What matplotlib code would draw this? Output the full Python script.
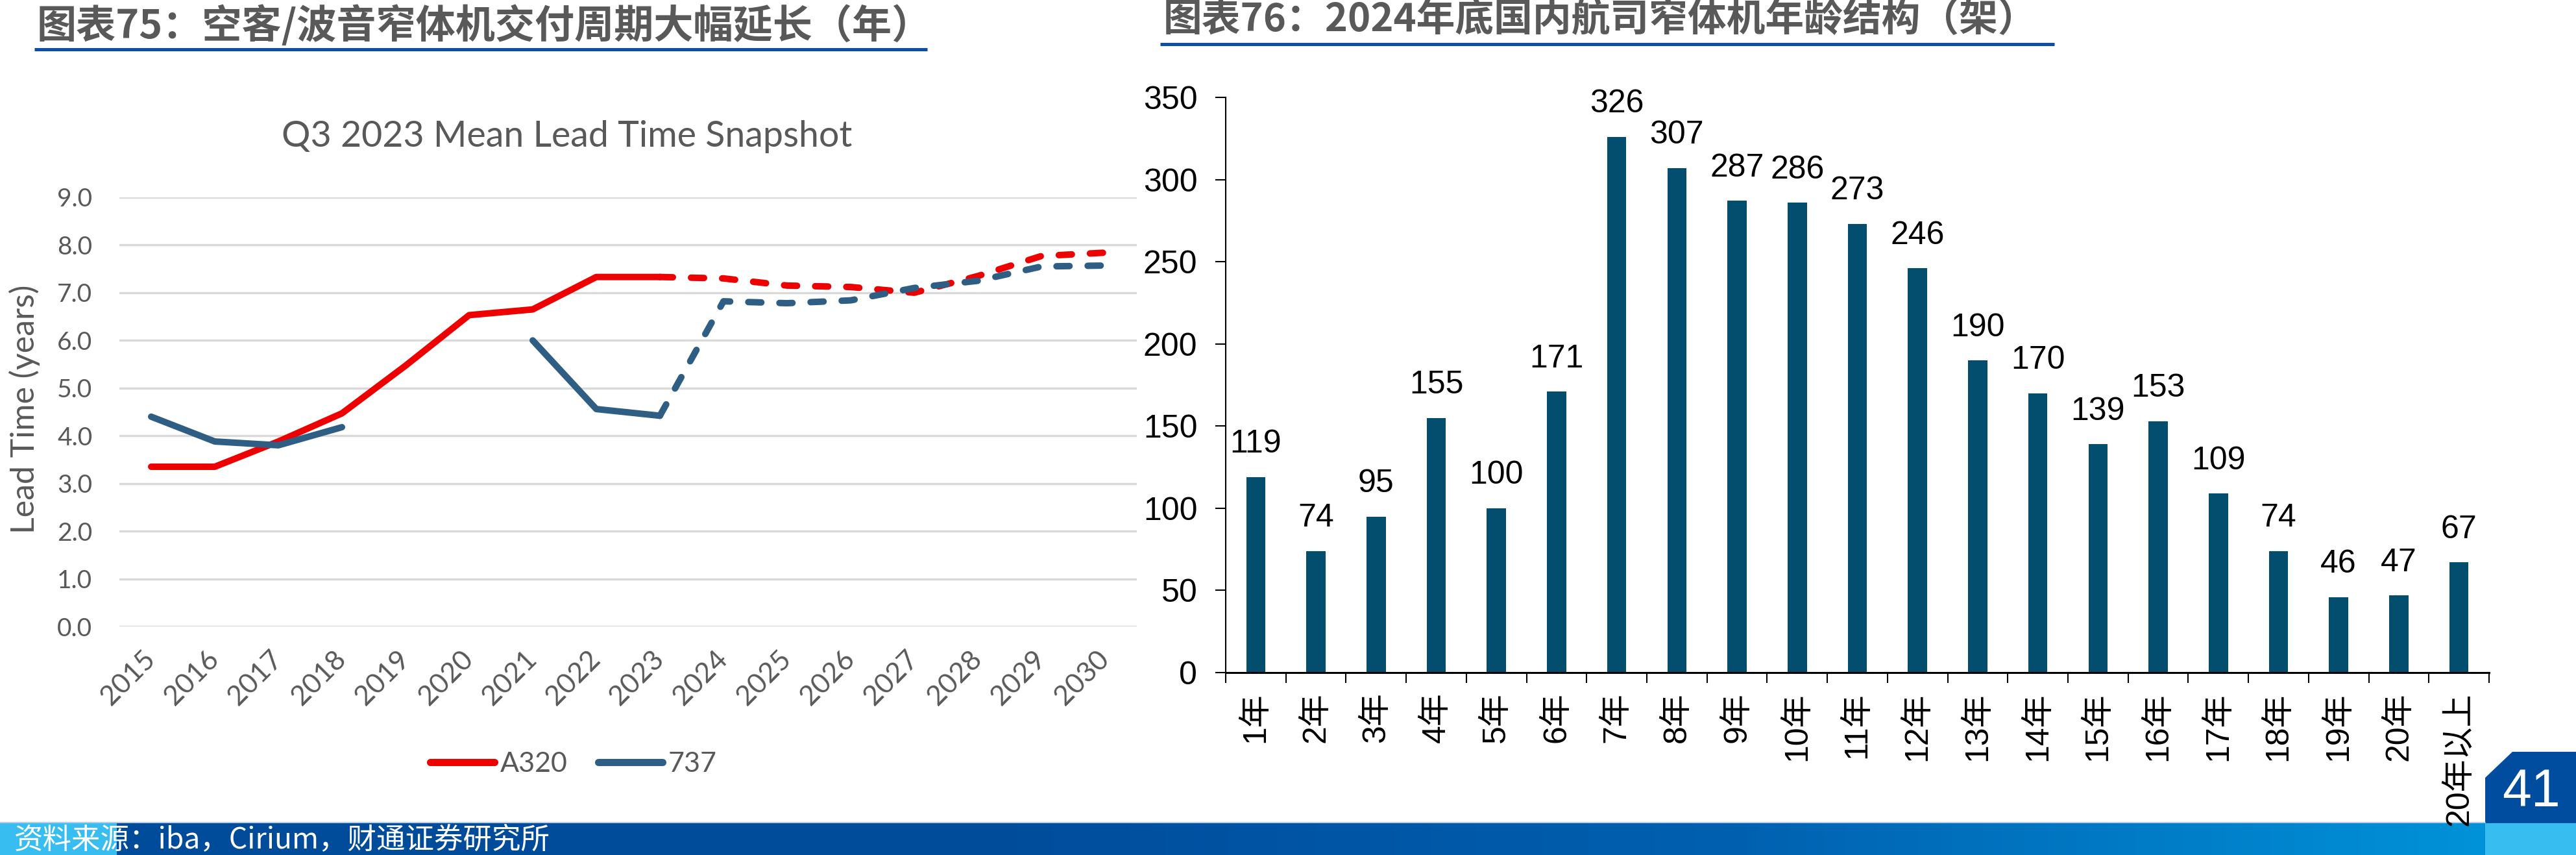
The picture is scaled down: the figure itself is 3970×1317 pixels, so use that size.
import numpy as np
import matplotlib
matplotlib.use('Agg')
import matplotlib.pyplot as plt
from matplotlib.lines import Line2D
from matplotlib.patches import Polygon, Rectangle
from matplotlib.colors import LinearSegmentedColormap

nan = np.nan

# ---------------- data ----------------
years = [str(y) for y in range(2015, 2031)]
a320_actual = [3.35, 3.35, 3.88, 4.47, 5.47, 6.53, 6.65, 7.33, 7.33,
               nan, nan, nan, nan, nan, nan, nan]
a320_forecast = [nan, nan, nan, nan, nan, nan, nan, nan, 7.33,
                 7.30, 7.15, 7.12, 7.00, 7.35, 7.77, 7.84]
b737_actual = [4.40, 3.88, 3.80, 4.18, nan, nan, 6.00, 4.56, 4.42,
               nan, nan, nan, nan, nan, nan, nan]
b737_forecast = [nan, nan, nan, nan, nan, nan, nan, nan, 4.42,
                 6.82, 6.78, 6.84, 7.10, 7.25, 7.55, 7.57]
lead_yticks = [0, 1, 2, 3, 4, 5, 6, 7, 8, 9]

age_labels = ['1年', '2年', '3年', '4年', '5年', '6年', '7年', '8年', '9年', '10年',
              '11年', '12年', '13年', '14年', '15年', '16年', '17年', '18年', '19年',
              '20年', '20年以上']
age_counts = [119, 74, 95, 155, 100, 171, 326, 307, 287, 286, 273, 246, 190,
              170, 139, 153, 109, 74, 46, 47, 67]
count_yticks = [0, 50, 100, 150, 200, 250, 300, 350]

title75 = '图表75：空客/波音窄体机交付周期大幅延长（年）'
title76 = '图表76：2024年底国内航司窄体机年龄结构（架）'
chart_title = 'Q3 2023 Mean Lead Time Snapshot'
source = '资料来源：iba，Cirium，财通证券研究所'
page_no = '41'

# ---------------- styles ----------------
W, H = 3970, 1317
RED = '#EE0000'
BLUE = '#2E5E84'
BAR = '#034E6E'
GRAY = '#595959'
CJK = ['Noto Sans CJK SC', 'DejaVu Sans']
LAT = ['Lato', 'DejaVu Sans']
ARIAL = ['Liberation Sans', 'Noto Sans CJK SC', 'DejaVu Sans']

fig = plt.figure(figsize=(W / 100, H / 100), dpi=100)
fig.patch.set_facecolor('white')


def rect(l, t, r, b):
    return [l / W, 1 - b / H, (r - l) / W, (b - t) / H]


bg = fig.add_axes([0, 0, 1, 1], zorder=0)
bg.axis('off')

# titles
bg.text(57, 40, title75, fontsize=44, fontweight='bold', color=GRAY,
        family=CJK, va='center', ha='left')
bg.plot([53, 1429], [76, 76], color='#0B4EA2', lw=3.6, solid_capstyle='butt')
bg.text(1793, 31, title76, fontsize=43, fontweight='bold', color=GRAY,
        family=CJK, va='center', ha='left')
bg.plot([1788, 3166], [68, 68], color='#0B4EA2', lw=3.6, solid_capstyle='butt')

# footer band
bg.add_patch(Rectangle((0, 1268), 180, 49, color='#38BDF0', lw=0))
bg.add_patch(Rectangle((180, 1268), 1330, 49, color='#004C9B', lw=0))
cmap = LinearSegmentedColormap.from_list('g', ['#004C9B', '#0060B0', '#0092D8'])
grad = np.linspace(0, 1, 256).reshape(1, -1)
bg.imshow(grad, cmap=cmap, extent=(1500, 3830, 1317, 1268), aspect='auto',
          interpolation='bilinear')
bg.plot([0, 3830], [1267, 1267], color='#A8C6E6', lw=1.2)
bg.add_patch(Rectangle((3830, 1268), 140, 49, color='#38BDF0', lw=0))
bg.add_patch(Polygon([(3830, 1268), (3830, 1198), (3872, 1158), (3970, 1158),
                      (3970, 1268)], closed=True, color='#004C9E', lw=0))
bg.text(22, 1293, source, color='white', fontsize=32, family=CJK,
        va='center', ha='left')
bg.text(3901, 1221, page_no, color='white', fontsize=58, family=ARIAL,
        va='center', ha='center')
bg.set_xlim(0, W)
bg.set_ylim(H, 0)

# ---------------- left chart ----------------
ax1 = fig.add_axes(rect(184, 304, 1752, 965), zorder=1)
x = np.arange(len(years))
lw = 7.2
ax1.plot(x, a320_actual, color=RED, lw=lw, solid_capstyle='round',
         solid_joinstyle='round')
ax1.plot(x, a320_forecast, color=RED, lw=lw, linestyle=(0, (2.0, 2.8)),
         dash_capstyle='round', dash_joinstyle='round')
ax1.plot(x, b737_actual, color=BLUE, lw=lw, solid_capstyle='round',
         solid_joinstyle='round')
ax1.plot(x, b737_forecast, color=BLUE, lw=lw, linestyle=(0, (2.0, 2.8)),
         dash_capstyle='round', dash_joinstyle='round')
ax1.set_xlim(-0.5, len(years) - 0.5)
ax1.set_ylim(0, 9)
ax1.set_yticks(lead_yticks)
ax1.set_yticklabels([f'{v:.1f}' for v in lead_yticks], fontsize=28,
                    color=GRAY, family=LAT)
ax1.set_xticks(x)
ax1.set_xticklabels(years, fontsize=31, color=GRAY, family=LAT, rotation=45,
                    ha='right', va='center', rotation_mode='anchor')
ax1.tick_params(axis='y', length=0, pad=30)
ax1.tick_params(axis='x', length=0, pad=32)
ax1.yaxis.grid(True, color='#D9D9D9', lw=2.4)
ax1.set_axisbelow(True)
for s in ax1.spines.values():
    s.set_visible(False)
ax1.patch.set_alpha(0)

bg.text(874, 210, chart_title, fontsize=40, color=GRAY, family=LAT,
        ha='center', va='center')
bg.text(38, 630, 'Lead Time (years)', fontsize=36, color=GRAY, family=LAT,
        rotation=90, ha='center', va='center')

handles = [Line2D([0], [0], color=RED, lw=8, solid_capstyle='round'),
           Line2D([0], [0], color=BLUE, lw=8, solid_capstyle='round')]
leg = fig.legend(handles, ['A320', '737'], loc='center',
                 bbox_to_anchor=(884 / W, 1 - 1177 / H), ncol=2, frameon=False,
                 handlelength=2.3, handletextpad=0.2,
                 columnspacing=1.1, prop={'family': LAT, 'size': 31})
for t in leg.get_texts():
    t.set_color(GRAY)

# ---------------- right chart ----------------
ax2 = fig.add_axes(rect(1889, 150, 3836, 1036), zorder=1)
pos = np.arange(len(age_labels))
ax2.bar(pos, age_counts, width=0.32, color=BAR, zorder=2)
for i, v in zip(pos, age_counts):
    ax2.annotate(str(v), (i, v), xytext=(0, 27), textcoords='offset points',
                 ha='center', va='baseline', fontsize=36, family=ARIAL,
                 color='black')
ax2.set_xlim(-0.5, len(age_labels) - 0.5)
ax2.set_ylim(0, 350)
ax2.set_yticks(count_yticks)
ax2.set_yticklabels([str(v) for v in count_yticks], fontsize=36, family=ARIAL)
ax2.set_xticks(np.arange(-0.5, len(age_labels), 1))
ax2.set_xticklabels([])
ax2.set_xticks(pos, minor=True)
ax2.set_xticklabels(age_labels, minor=True, rotation=90, fontsize=36,
                    family=ARIAL, ha='center', va='top')
ax2.tick_params(axis='x', which='major', direction='out', length=11.5,
                width=1.5)
ax2.tick_params(axis='x', which='minor', length=0, pad=22)
ax2.tick_params(axis='y', direction='out', length=11.5, width=1.5, pad=20)
ax2.spines['top'].set_visible(False)
ax2.spines['right'].set_visible(False)
ax2.spines['left'].set_linewidth(1.5)
ax2.spines['bottom'].set_linewidth(2.2)
ax2.patch.set_alpha(0)

fig.savefig('out.png', dpi=100, facecolor='white')
